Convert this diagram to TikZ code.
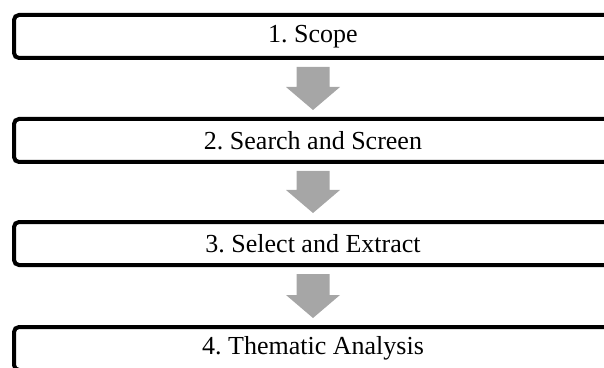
\documentclass[tikz,border=0pt]{standalone}
\usepackage{fontspec}
\setmainfont{Liberation Serif}
\usetikzlibrary{calc}
\definecolor{arrowgray}{RGB}{166,166,166}
\tikzset{
  stagebox/.style={draw=black, line width=4pt, rounded corners=5pt, fill=white,
    minimum width=598pt, minimum height=43pt, inner sep=0pt,
    font=\fontsize{26}{30}\selectfont\frenchspacing},
  flowarrow/.style={fill=arrowgray, draw=none}
}
\newcommand{\blockarrow}[2]{%
  \fill[flowarrow] ($(#1.south)+(-16.5pt,-7pt)$) -- ($(#1.south)+(16.5pt,-7pt)$)
    -- ($(#2.north)+(16.5pt,30pt)$) -- ($(#2.north)+(27pt,30pt)$)
    -- ($(#2.north)+(0pt,7pt)$) -- ($(#2.north)+(-27pt,30pt)$)
    -- ($(#2.north)+(-16.5pt,30pt)$) -- cycle;}
\begin{document}
\begin{tikzpicture}[x=1pt,y=1pt]
\useasboundingbox (0,0) rectangle (604,367);
\begin{scope}
\clip (0,0) rectangle (604,367);
\node[stagebox] (s1) at (313,330.5) {1. Scope};
\node[stagebox] (s2) at (313,226.5) {2. Search and Screen};
\node[stagebox] (s3) at (313,123.5) {3. Select and Extract};
\node[stagebox] (s4) at (313,18.5) {4. Thematic Analysis};
\blockarrow{s1}{s2}
\blockarrow{s2}{s3}
\blockarrow{s3}{s4}
\end{scope}
\end{tikzpicture}
\end{document}
